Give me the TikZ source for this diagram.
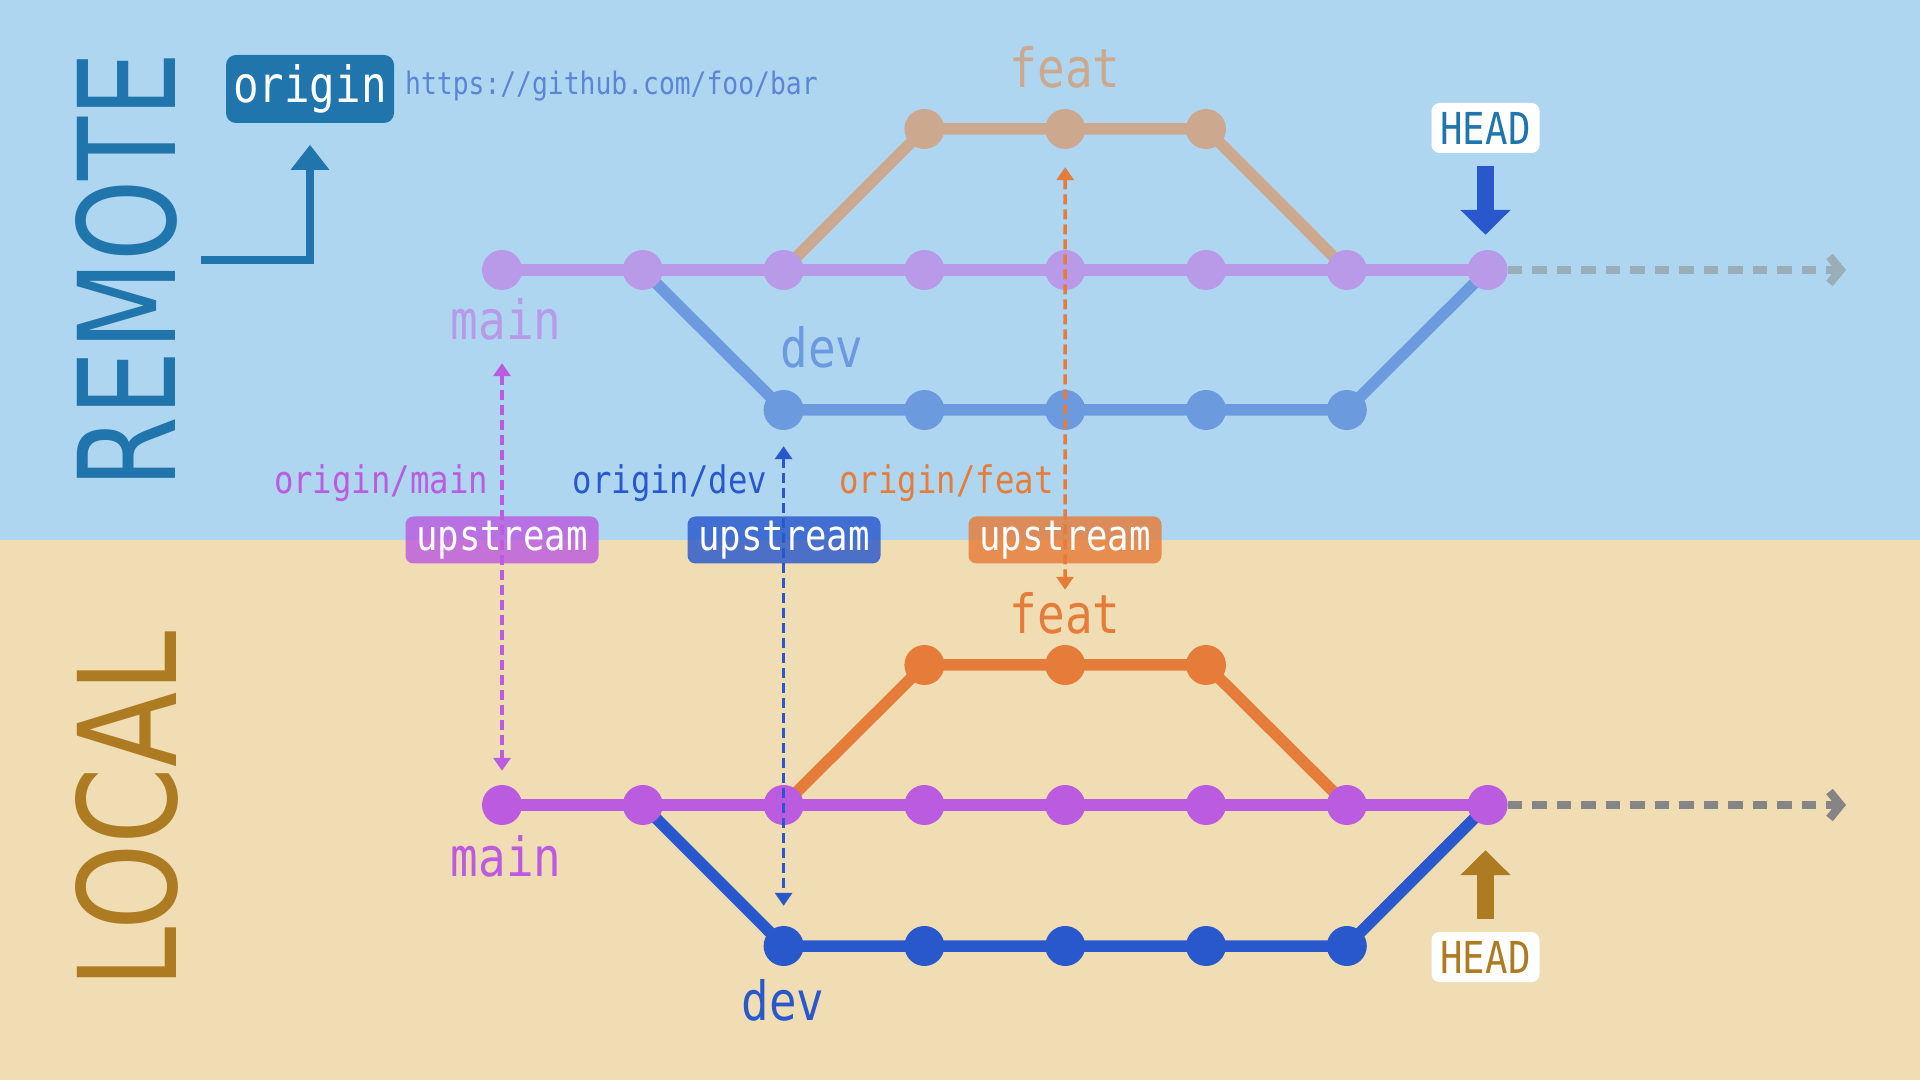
\documentclass[tikz,border=0pt]{standalone}
\usepackage{fontspec}
\usepackage{graphicx}
\usetikzlibrary{arrows.meta}
\newfontfamily\monoft[FakeStretch=0.85]{DejaVu Sans Mono}
\newfontfamily\bigsans{DejaVu Sans}
\definecolor{bgtop}{HTML}{AED6F0}
\definecolor{bgbot}{HTML}{F1DDB3}
\definecolor{remotec}{HTML}{2175AD}
\definecolor{localc}{HTML}{AD7C22}
\definecolor{urlc}{HTML}{5B86D6}
\definecolor{rmainc}{HTML}{B89AE8}
\definecolor{rdevc}{HTML}{6B9ADF}
\definecolor{rfeatc}{HTML}{CCA88F}
\definecolor{lmainc}{HTML}{BB5BE0}
\definecolor{ldevc}{HTML}{2858CC}
\definecolor{lfeatc}{HTML}{E67C3A}
\definecolor{rdots}{HTML}{9AAEB8}
\definecolor{ldots}{HTML}{858585}
\pgfdeclarelayer{bg}
\pgfsetlayers{bg,main}
\begin{document}
\begin{tikzpicture}[x=1pt,y=1pt,
  commit/.style={circle, inner sep=0pt, minimum size=40pt},
  br/.style={line width=11.5pt},
  lbl/.style={inner sep=0pt, anchor=base, font=\monoft\fontsize{54}{60}\selectfont},
  olbl/.style={inner sep=0pt, anchor=base, font=\monoft\fontsize{38}{44}\selectfont},
  upbox/.style={rounded corners=8pt, minimum width=193pt, minimum height=47pt, inner sep=0pt,
    fill opacity=0.82, text opacity=1, text=white, font=\monoft\fontsize{42}{48}\selectfont},
  headbox/.style={fill=white, rounded corners=8pt, minimum width=108pt, minimum height=50pt,
    inner sep=0pt, font=\monoft\fontsize{44}{50}\selectfont},
  updash/.style={line width=3.5pt, dash pattern=on 10pt off 5pt,
    {Triangle[width=17pt,length=13pt]}-{Triangle[width=17pt,length=13pt]}},
  headarrow/.style={line width=17pt, -{Triangle[width=49pt,length=25pt]}},
  future/.style={line width=8.5pt, dash pattern=on 14.5pt off 10pt, -{Straight Barb[length=11pt,width=27pt]}}
]
\useasboundingbox (0,0) rectangle (1920,1080);
\begin{pgfonlayer}{bg}
  \fill[bgtop] (0,540) rectangle (1920,1080);
  \fill[bgbot] (0,0) rectangle (1920,540);
\end{pgfonlayer}

% titles
\node[rotate=90, inner sep=0pt, text=remotec] (remotetitle) at (126.5,810) {\resizebox{436pt}{100pt}{\bigsans REMOTE}};
\node[rotate=90, inner sep=0pt, text=localc] (localtitle) at (127,270.5) {\resizebox{357pt}{101pt}{\bigsans LOCAL}};

% origin
\node[fill=remotec, rounded corners=10pt, minimum width=168pt, minimum height=68pt, inner sep=0pt,
  text=white, font=\monoft\fontsize{50}{56}\selectfont] (origin) at (310,991) {origin};
\node[anchor=base west, inner sep=0pt, text=urlc, font=\monoft\fontsize{31}{36}\selectfont] (url) at (405,985) {https://github.com/foo/bar};
\coordinate (lstart) at (201,820);
\draw[remotec, line width=8pt, -{Triangle[width=37pt,length=25pt]}, shorten >=21.6pt]
  (lstart) -- (origin.south |- lstart) -- (origin.south);

% remote commits
\foreach \i in {1,...,8} {\node[commit, fill=rmainc] (rm\i) at ({502+140.8*(\i-1)},810) {};}
\foreach \i in {1,...,5} {\node[commit, fill=rdevc] (rd\i) at ({502+140.8*(\i+1)},670) {};}
\foreach \i in {1,...,3} {\node[commit, fill=rfeatc] (rf\i) at ({502+140.8*(\i+2)},951) {};}
% local commits
\foreach \i in {1,...,8} {\node[commit, fill=lmainc] (lm\i) at ({502+140.8*(\i-1)},275) {};}
\foreach \i in {1,...,5} {\node[commit, fill=ldevc] (ld\i) at ({502+140.8*(\i+1)},134) {};}
\foreach \i in {1,...,3} {\node[commit, fill=lfeatc] (lf\i) at ({502+140.8*(\i+2)},415) {};}

\begin{pgfonlayer}{bg}
  \draw[br, rmainc] (rm1.center) -- (rm8.center);
  \draw[br, rdevc] (rm2.center) -- (rd1.center) -- (rd5.center) -- (rm8.center);
  \draw[br, rfeatc] (rm3.center) -- (rf1.center) -- (rf3.center) -- (rm7.center);
  \draw[br, lmainc] (lm1.center) -- (lm8.center);
  \draw[br, ldevc] (lm2.center) -- (ld1.center) -- (ld5.center) -- (lm8.center);
  \draw[br, lfeatc] (lm3.center) -- (lf1.center) -- (lf3.center) -- (lm7.center);
\end{pgfonlayer}

% future
\coordinate (rEnd) at (1846,810);
\coordinate (lEnd) at (1846,275);
\draw[future, rdots] (rm8.east) -- (rEnd);
\draw[future, ldots] (lm8.east) -- (lEnd);

% branch labels
\node[lbl, text=rfeatc] (rfl) at (1065,992) {feat};
\node[lbl, text=rmainc] (rml) at (506,740) {main};
\node[lbl, text=rdevc] (rdl) at (822,712) {dev};
\node[lbl, text=lfeatc] (lfl) at (1065,446) {feat};
\node[lbl, text=lmainc] (lml) at (506,204) {main};
\node[lbl, text=ldevc] (ldl) at (783,60) {dev};

% remote-tracking labels
\node[olbl, text=lmainc] (om) at (381,586) {origin/main};
\node[olbl, text=ldevc] (od) at (670,586) {origin/dev};
\node[olbl, text=lfeatc] (of) at (946.5,586) {origin/feat};

% upstream boxes
\node[upbox, fill=lmainc] (u1) at (502,540) {upstream};
\node[upbox, fill=ldevc] (u2) at (784,540) {upstream};
\node[upbox, fill=lfeatc] (u3) at (1065,540) {upstream};

% upstream links
\draw[updash, lmainc, shorten <=73pt, shorten >=14pt] (rm1.south) -- (lm1.north);
\draw[updash, ldevc, shorten <=16pt, shorten >=20pt] (rd1.south) -- (ld1.north);
\draw[updash, lfeatc, shorten <=18pt, shorten >=3pt] (rf2.south) -- (lfl.north);

% HEAD
\node[headbox, text=remotec] (hr) at (1485.5,952) {HEAD};
\node[headbox, text=localc] (hl) at (1485.5,123) {HEAD};
\draw[headarrow, ldevc, shorten <=13pt, shorten >=15pt] (hr.south) -- (hr.south |- rm8.north);
\draw[headarrow, localc, shorten <=13pt, shorten >=25pt] (hl.north) -- (hl.north |- lm8.south);
\end{tikzpicture}
\end{document}
